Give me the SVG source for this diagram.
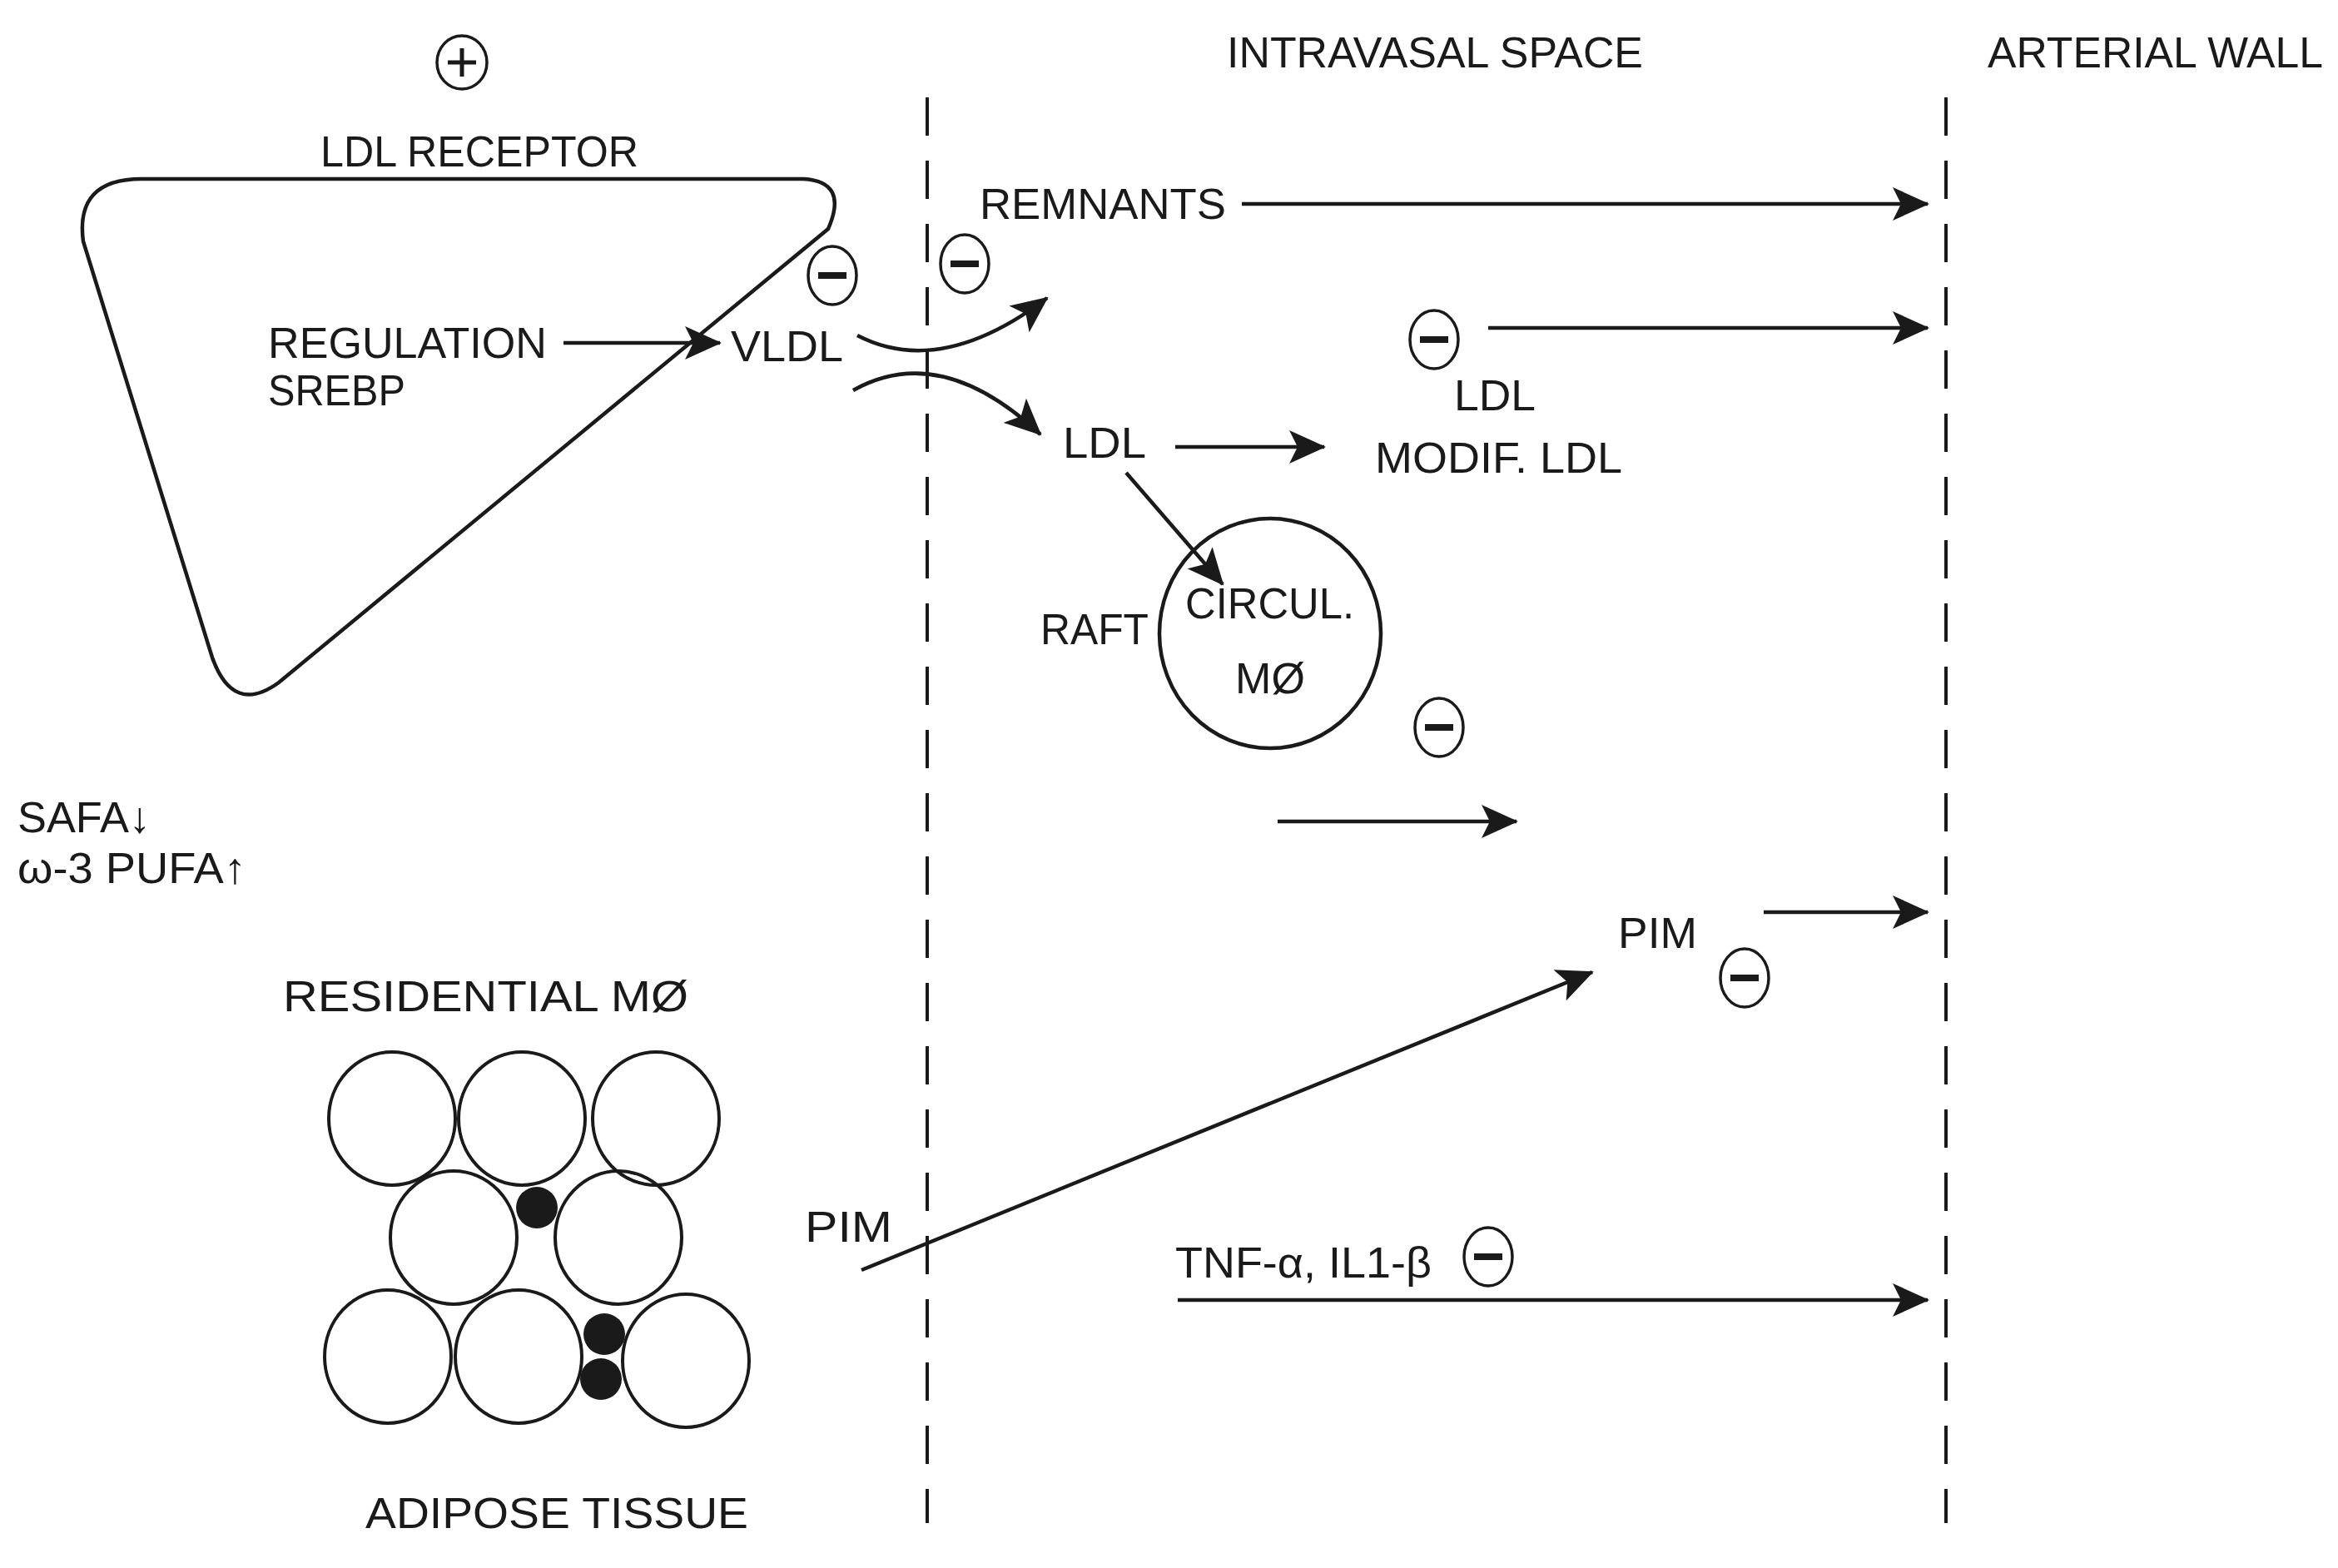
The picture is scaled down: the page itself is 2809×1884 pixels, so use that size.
<svg xmlns="http://www.w3.org/2000/svg" width="2809" height="1884" viewBox="0 0 2809 1884">
<style>
text{font-family:"Liberation Sans",Arial,sans-serif;font-size:52px;fill:#1a1a1a}
.ln{stroke:#1a1a1a;stroke-width:4.5;fill:none}
.dash{stroke:#1a1a1a;stroke-width:4;stroke-dasharray:46 30;fill:none}
.c{stroke:#1a1a1a;stroke-width:3.5;fill:#fff}
.bar{stroke:#1a1a1a;stroke-width:8}
</style>
<defs>
<marker id="ah" markerWidth="10" markerHeight="10" refX="9" refY="5" orient="auto" markerUnits="userSpaceOnUse" viewBox="0 0 10 10">
<path d="M0,0 L10,5 L0,10 L2.5,5 Z" fill="#1a1a1a"/>
</marker>
<marker id="a" markerWidth="44" markerHeight="40" refX="42" refY="20" orient="auto" markerUnits="userSpaceOnUse">
<path d="M0,0 L44,20 L0,40 L10,20 Z" fill="#1a1a1a"/>
</marker>
<g id="minus"><ellipse cx="0" cy="0" rx="29" ry="35" class="c"/><line x1="-17" y1="0" x2="17" y2="0" class="bar"/></g>
</defs>
<rect width="2809" height="1884" fill="#fff"/>
<g id="dividers">
<line x1="1114" y1="117" x2="1114" y2="1830" class="dash"/>
<line x1="2338" y1="117" x2="2338" y2="1830" class="dash"/>
</g>
<g id="headers">
<text x="1474" y="81" textLength="500" lengthAdjust="spacingAndGlyphs">INTRAVASAL SPACE</text>
<text x="2388" y="81" textLength="403" lengthAdjust="spacingAndGlyphs">ARTERIAL WALL</text>
</g>
<g id="liver">
<path class="ln" d="M170,215 L965,215 Q1020,218 995,275 L335,820 Q280,860 255,790 L100,290 Q90,215 170,215 Z"/>
<text x="385" y="200" textLength="382" lengthAdjust="spacingAndGlyphs">LDL RECEPTOR</text>
<text x="322" y="430" textLength="335" lengthAdjust="spacingAndGlyphs">REGULATION</text>
<text x="322" y="487" textLength="165" lengthAdjust="spacingAndGlyphs">SREBP</text>
</g>
<g id="plus"><ellipse cx="555" cy="75" rx="30" ry="32" class="c"/><line x1="538" y1="75" x2="572" y2="75" class="bar" style="stroke-width:5"/><line x1="555" y1="58" x2="555" y2="92" class="bar" style="stroke-width:5"/></g>
<g id="vldl"><text x="878" y="434" textLength="135" lengthAdjust="spacingAndGlyphs">VLDL</text></g>
<g id="remnants"><text x="1177" y="263" textLength="296" lengthAdjust="spacingAndGlyphs">REMNANTS</text></g>
<g id="ldl1"><text x="1277" y="550" textLength="100" lengthAdjust="spacingAndGlyphs">LDL</text></g>
<g id="ldl2"><text x="1747" y="493" textLength="98" lengthAdjust="spacingAndGlyphs">LDL</text>
<text x="1652" y="568" textLength="297" lengthAdjust="spacingAndGlyphs">MODIF. LDL</text></g>
<g id="circ">
<ellipse cx="1526" cy="761" rx="133" ry="138" class="c" style="fill:none;stroke-width:4.5"/>
<text x="1424" y="743" textLength="203" lengthAdjust="spacingAndGlyphs">CIRCUL.</text>
<text x="1526" y="833" text-anchor="middle">MØ</text>
<text x="1250" y="774" textLength="130" lengthAdjust="spacingAndGlyphs">RAFT</text>
</g>
<g id="pim2"><text x="1944" y="1139" textLength="95" lengthAdjust="spacingAndGlyphs">PIM</text></g>
<g id="pim1"><text x="967" y="1492" textLength="105" lengthAdjust="spacingAndGlyphs">PIM</text></g>
<g id="tnf"><text x="1412" y="1535" textLength="308" lengthAdjust="spacingAndGlyphs">TNF-α, IL1-β</text></g>
<g id="fa">
<text x="21" y="1000" textLength="160" lengthAdjust="spacingAndGlyphs">SAFA↓</text>
<text x="21" y="1061" textLength="275" lengthAdjust="spacingAndGlyphs">ω-3 PUFA↑</text>
</g>
<g id="adipose">
<text x="340" y="1215" textLength="487" lengthAdjust="spacingAndGlyphs">RESIDENTIAL MØ</text>
<g class="c" style="fill:none;stroke-width:4">
<ellipse cx="471" cy="1344" rx="76" ry="80"/><ellipse cx="627" cy="1344" rx="76" ry="80"/><ellipse cx="788" cy="1344" rx="76" ry="80"/>
<ellipse cx="545" cy="1487" rx="76" ry="80"/><ellipse cx="743" cy="1487" rx="76" ry="80"/>
<ellipse cx="466" cy="1630" rx="76" ry="80"/><ellipse cx="623" cy="1630" rx="76" ry="80"/><ellipse cx="824" cy="1635" rx="76" ry="80"/>
</g>
<circle cx="645" cy="1451" r="25" fill="#1a1a1a"/>
<circle cx="726" cy="1603" r="25" fill="#1a1a1a"/>
<circle cx="722" cy="1657" r="25" fill="#1a1a1a"/>
<text x="439" y="1836" textLength="460" lengthAdjust="spacingAndGlyphs">ADIPOSE TISSUE</text>
</g>
<g id="inhibitors">
<use href="#minus" x="1000" y="331"/>
<use href="#minus" x="1159" y="317"/>
<use href="#minus" x="1723" y="408"/>
<use href="#minus" x="1729" y="874"/>
<use href="#minus" x="2096" y="1175"/>
<use href="#minus" x="1788" y="1510"/>
</g>
<g id="connectors" class="ln" marker-end="url(#a)">
<line x1="677" y1="412" x2="865" y2="412" marker-end="url(#a)"/>
<path d="M1030,403 Q1130,455 1258,358" marker-end="url(#a)"/>
<path d="M1025,469 Q1130,410 1250,522" marker-end="url(#a)"/>
<line x1="1492" y1="245" x2="2316" y2="245" marker-end="url(#a)"/>
<line x1="1788" y1="394" x2="2316" y2="394" marker-end="url(#a)"/>
<line x1="1412" y1="537" x2="1591" y2="537" marker-end="url(#a)"/>
<line x1="1353" y1="568" x2="1469" y2="702" marker-end="url(#a)"/>
<line x1="1535" y1="987" x2="1822" y2="987" marker-end="url(#a)"/>
<line x1="2119" y1="1096" x2="2316" y2="1096" marker-end="url(#a)"/>
<line x1="1035" y1="1526" x2="1913" y2="1168" marker-end="url(#a)"/>
<line x1="1415" y1="1562" x2="2316" y2="1562" marker-end="url(#a)"/>
</g>
</svg>
